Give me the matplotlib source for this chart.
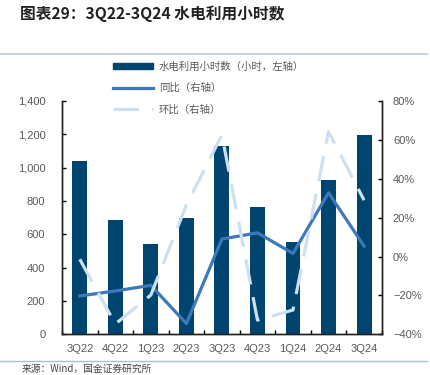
import matplotlib
matplotlib.use('Agg')
import matplotlib.pyplot as plt
from matplotlib.lines import Line2D
from matplotlib.patches import Patch
from matplotlib.ticker import FuncFormatter, FixedLocator

plt.rcParams['font.family'] = ['Liberation Sans', 'Noto Sans CJK SC', 'DejaVu Sans']

quarters = ['3Q22', '4Q22', '1Q23', '2Q23', '3Q23', '4Q23', '1Q24', '2Q24', '3Q24']
hours = [1038, 684, 544, 696, 1130, 766, 556, 924, 1198]
yoy = [-20.3, -17.7, -14.8, -34.5, 9.0, 12.2, 1.6, 32.8, 5.4]
qoq = [-1.4, -34.7, -19.8, 26.5, 62.5, -32.7, -27.5, 64.2, 29.0]

bar_color = '#004570'
yoy_color = '#3d78bb'
qoq_color = '#cde0f1'
tick_color = '#595959'

fig = plt.figure(figsize=(4.31, 3.75), dpi=100)
ax = fig.add_axes([0.1439, 0.1085, 0.742, 0.6222])
ax2 = ax.twinx()

x = list(range(len(quarters)))
ax.bar(x, hours, width=0.42, color=bar_color, zorder=2)
ax2.plot(x, yoy, color=yoy_color, lw=2.3, zorder=3)
ax2.plot(x, qoq, color=qoq_color, lw=2.3, dashes=(8, 4), zorder=3)

ax.set_xlim(-0.5, 8.5)
ax.set_ylim(0, 1400)
ax.set_yticks(range(0, 1401, 200))
ax.yaxis.set_major_formatter(FuncFormatter(lambda v, p: f'{int(v):,}'))
ax2.set_ylim(-40, 80)
ax2.set_yticks(range(-40, 81, 20))
ax2.yaxis.set_major_formatter(FuncFormatter(lambda v, p: f'{int(v)}%'.replace('-', '\u2212')))

ax.set_xticks(x)
ax.set_xticklabels(quarters)
ax.xaxis.set_minor_locator(FixedLocator([i + 0.5 for i in range(-1, 9)]))
ax.tick_params(axis='x', which='major', length=0, pad=7, labelsize=8, labelcolor=tick_color)
ax.tick_params(axis='x', which='minor', length=3, direction='in', width=1)
ax.tick_params(axis='y', direction='in', length=3, width=1, labelsize=8, labelcolor=tick_color, pad=12)
ax2.tick_params(axis='y', direction='in', length=3, width=1, labelsize=8, labelcolor=tick_color, pad=8)

for a in (ax, ax2):
    a.spines['top'].set_visible(False)
    for s in ('left', 'right', 'bottom'):
        a.spines[s].set_linewidth(1)
        a.spines[s].set_color('#222222')

handles = [
    Patch(facecolor=bar_color, edgecolor=bar_color),
    Line2D([], [], color=yoy_color, lw=2.3),
    Line2D([], [], color=qoq_color, lw=2.3, dashes=(8, 4)),
]
labels = ['水电利用小时数（小时，左轴）', '同比（右轴）', '环比（右轴）']
leg = fig.legend(handles, labels, loc='upper left', bbox_to_anchor=(0.24, 0.86),
                 frameon=False, handlelength=3.9, handleheight=0.5,
                 labelspacing=1.05, handletextpad=0.5,
                 prop={'family': ['Noto Sans CJK SC'], 'size': 7.5})
for t in leg.get_texts():
    t.set_color(tick_color)

fig.text(0.047, 0.963, '图表29：3Q22-3Q24 水电利用小时数', fontsize=11.3, fontweight='bold',
         style='italic', color='#222222', va='center', family=['Noto Sans CJK SC'])
fig.add_artist(Line2D([0, 0.99], [0.856, 0.856], color='#c5d5e2', lw=1.5))
fig.add_artist(Line2D([0, 0.99], [0.038, 0.038], color='#a8c0d6', lw=1))
fig.text(0.05, 0.002, '来源：Wind，国金证券研究所', fontsize=7, color='#444444',
         va='bottom', family=['Noto Sans CJK SC'])

fig.savefig('out.png', dpi=100)
